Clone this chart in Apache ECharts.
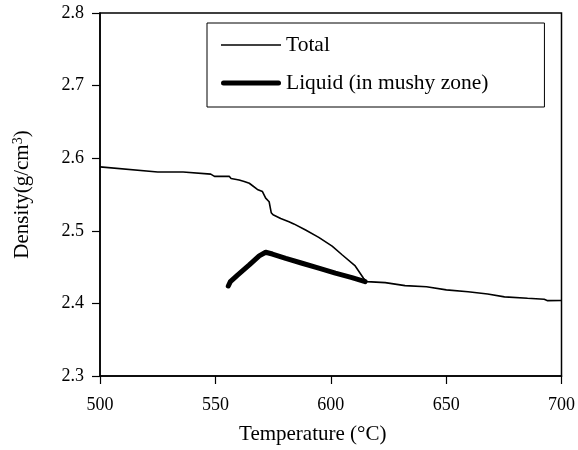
<!DOCTYPE html>
<html>
<head>
<meta charset="utf-8">
<script src="https://cdn.jsdelivr.net/npm/echarts@6/dist/echarts.min.js"></script>
<style>
html,body{margin:0;padding:0;background:#fff;}
#chart{width:578px;height:450px;}
</style>
</head>
<body>
<div id="chart"></div>
<script>
// Total density curve: temperature (°C) and density (g/cm3)
var totalTemp = [500, 525, 536, 548, 549.6, 556, 556.8, 560.3, 562.5, 564.7, 568.2, 570.4, 571.8, 573.3, 574.2, 575, 578.3, 581.9, 584, 589.1, 594.8, 600.6, 604.9, 610.6, 614.2, 615.6, 623.6, 632.2, 641.5, 650.1, 659.5, 668, 675.3, 685.3, 692.5, 694, 700];
var totalDensity = [2.588, 2.581, 2.581, 2.578, 2.575, 2.575, 2.572, 2.570, 2.568, 2.5655, 2.557, 2.554, 2.545, 2.540, 2.525, 2.522, 2.517, 2.5126, 2.5095, 2.501, 2.491, 2.479, 2.467, 2.4516, 2.4347, 2.430, 2.4286, 2.4245, 2.423, 2.4186, 2.416, 2.413, 2.409, 2.407, 2.4057, 2.4038, 2.404];
// Liquid (in mushy zone)
var liquidTemp = [555.6, 556.5, 559.6, 564.7, 569, 571.8, 574.7, 580.5, 587.6, 594.8, 602, 609.2, 614.9];
var liquidDensity = [2.424, 2.430, 2.439, 2.453, 2.4654, 2.4705, 2.468, 2.462, 2.4553, 2.4485, 2.4416, 2.4355, 2.430];
var xTicks = [500, 550, 600, 650, 700];
var yTicks = [2.3, 2.4, 2.5, 2.6, 2.7, 2.8];
var seriesNames = ['Total', 'Liquid (in mushy zone)'];

function pairs(xs, ys){ return xs.map(function(x,i){ return [x, ys[i]]; }); }

var font = 'Liberation Serif, Times New Roman, serif';
var chart = echarts.init(document.getElementById('chart'), null, {renderer:'canvas'});
chart.setOption({
  backgroundColor:'#fff',
  animation:false,
  textStyle:{fontFamily:font, color:'#000'},
  grid:{left:100, right:14, top:13, bottom:74, show:true, borderColor:'#000', borderWidth:1.5, backgroundColor:'transparent'},
  legend:{
    orient:'vertical', left:207, top:23,
    padding:[11, 56, 13, 14],
    borderColor:'#000', borderWidth:1, backgroundColor:'#fff',
    itemWidth:60, itemHeight:10, itemGap:16,
    textStyle:{fontFamily:font, fontSize:21.5, color:'#000', lineHeight:22},
    data:[
      {name:seriesNames[0], icon:'path://M0,0H60V1.5H0Z', itemStyle:{color:'#000'}},
      {name:seriesNames[1], icon:'path://M2.5,0H57.5A2.5,2.5 0 0 1 57.5,5H2.5A2.5,2.5 0 0 1 2.5,0Z', itemStyle:{color:'#000'}}
    ]
  },
  xAxis:{
    type:'value', min:xTicks[0], max:xTicks[xTicks.length-1], interval:50,
    name:'Temperature (°C)', nameLocation:'middle', nameGap:48,
    nameTextStyle:{fontFamily:font, fontSize:21, color:'#000', padding:[0, 36, 0, 0]},
    axisLine:{show:true, onZero:false, lineStyle:{color:'#000', width:1.5}},
    axisTick:{show:true, inside:false, length:8, lineStyle:{color:'#000', width:1.2}},
    axisLabel:{fontFamily:font, fontSize:18, color:'#000', margin:20},
    splitLine:{show:false}
  },
  yAxis:{
    type:'value', min:yTicks[0], max:yTicks[yTicks.length-1], interval:0.1,
    name:'Density(g/cm{sup|3})', nameLocation:'middle', nameGap:66, nameRotate:90,
    nameTextStyle:{fontFamily:font, fontSize:21, color:'#000',
      rich:{sup:{fontFamily:font, fontSize:14, color:'#000', verticalAlign:'top', padding:[0,0,9,0]}}},
    axisLine:{show:true, onZero:false, lineStyle:{color:'#000', width:1.5}},
    axisTick:{show:true, inside:false, length:8, lineStyle:{color:'#000', width:1.2}},
    axisLabel:{fontFamily:font, fontSize:18, color:'#000', margin:16, formatter:function(v){return v.toFixed(1);}},
    splitLine:{show:false}
  },
  series:[
    {name:seriesNames[0], type:'line', symbol:'none', data:pairs(totalTemp,totalDensity),
     lineStyle:{color:'#000', width:1.6}, itemStyle:{color:'#000'}},
    {name:seriesNames[1], type:'line', symbol:'none', data:pairs(liquidTemp,liquidDensity),
     lineStyle:{color:'#000', width:5, cap:'round', join:'round'}, itemStyle:{color:'#000'}}
  ]
});
</script>
</body>
</html>
